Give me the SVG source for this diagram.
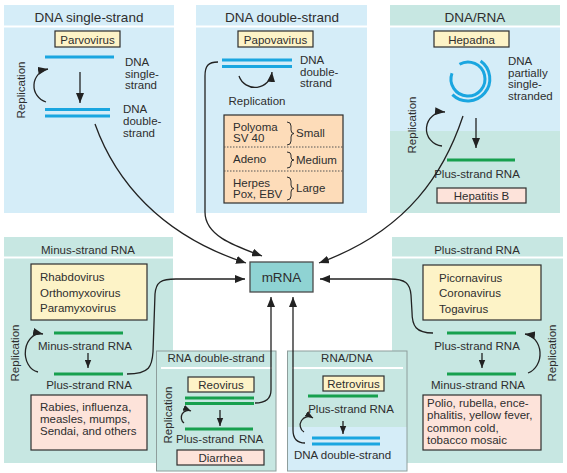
<svg xmlns="http://www.w3.org/2000/svg" width="567" height="473" viewBox="0 0 567 473">
<style>
text{font-family:"Liberation Sans",Arial,sans-serif;fill:#2e2e2e;font-size:11.5px}
.h1{font-size:13.5px}
.c{text-anchor:middle}
.blue{fill:#d5edf8}
.teal{fill:#c7e7e2}
.sep{stroke:#fff;stroke-width:2}
.box{stroke:#2e2e2e;stroke-width:1.2}
.yel{fill:#fdf3c7}
.rose{fill:#fde3da}
.peach{fill:#fddcb9}
.bl{stroke:#1aa6e0;stroke-width:3;fill:none}
.gr{stroke:#17a04e;stroke-width:3;fill:none}
.con{stroke:#222;stroke-width:1.3;fill:none}
.frame{fill:none;stroke:#8e9e9c;stroke-width:1}
.dot{stroke:#555;stroke-width:1;stroke-dasharray:1.5 1.5}
.brace{stroke:#2e2e2e;stroke-width:1;fill:none}
</style>
<defs>
<marker id="ah" viewBox="0 0 10 8" refX="10" refY="4" markerWidth="10" markerHeight="8" markerUnits="userSpaceOnUse" orient="auto"><path d="M0,0L10,4L0,8z" fill="#222"/></marker>
<marker id="as" viewBox="0 0 10 8" refX="10" refY="4" markerWidth="8" markerHeight="7" markerUnits="userSpaceOnUse" orient="auto"><path d="M0,0L10,4L0,8z" fill="#222"/></marker>
</defs>

<g id="dna-single">
<rect x="4" y="5" width="170" height="208" class="blue"/>
<line x1="4" y1="26.5" x2="174" y2="26.5" class="sep"/>
<text x="89" y="21.5" class="h1 c">DNA single-strand</text>
<rect x="55" y="31" width="65" height="16" class="box yel"/>
<text x="87.5" y="43.5" class="c">Parvovirus</text>
<line x1="45" y1="57" x2="114" y2="57" class="bl"/>
<text x="125" y="66">DNA</text>
<text x="125" y="77.5">single-</text>
<text x="125" y="89">strand</text>
<line x1="80" y1="72" x2="80" y2="103" class="con" marker-end="url(#ah)"/>
<line x1="45" y1="109.5" x2="110" y2="109.5" class="bl"/>
<line x1="45" y1="116" x2="110" y2="116" class="bl"/>
<text x="123" y="113">DNA</text>
<text x="123" y="125">double-</text>
<text x="123" y="137">strand</text>
<text transform="translate(25,90) rotate(-90)" class="c">Replication</text>
<path d="M46,102 A17,17 0 0 1 48,69" class="con" marker-end="url(#ah)"/>
</g>

<g id="dna-double">
<rect x="196" y="5" width="171" height="208" class="blue"/>
<line x1="196" y1="26.5" x2="367" y2="26.5" class="sep"/>
<text x="282" y="21.5" class="h1 c">DNA double-strand</text>
<rect x="238" y="31" width="75" height="16" class="box yel"/>
<text x="275.5" y="43.5" class="c">Papovavirus</text>
<line x1="222" y1="60" x2="292" y2="60" class="bl"/>
<line x1="222" y1="66.5" x2="292" y2="66.5" class="bl"/>
<text x="300" y="64">DNA</text>
<text x="300" y="75.5">double-</text>
<text x="300" y="87">strand</text>
<path d="M239,76 A17,17 0 0 0 272,72" class="con" marker-end="url(#ah)"/>
<text x="257" y="105" class="c">Replication</text>
<rect x="224" y="115" width="119" height="88" class="box peach"/>
<line x1="224" y1="147" x2="343" y2="147" class="dot"/>
<line x1="224" y1="171" x2="343" y2="171" class="dot"/>
<text x="233" y="131">Polyoma</text>
<text x="233" y="142">SV 40</text>
<text x="233" y="163">Adeno</text>
<text x="233" y="187">Herpes</text>
<text x="233" y="198">Pox, EBV</text>
<path d="M287,122 Q291,122 291,126 L291,130 Q291,133.5 294,133.5 Q291,133.5 291,137 L291,141 Q291,145 287,145" class="brace"/>
<path d="M287,152 Q291,152 291,155 L291,157 Q291,160 294,160 Q291,160 291,163 L291,165 Q291,168 287,168" class="brace"/>
<path d="M287,177 Q291,177 291,181 L291,185 Q291,188.5 294,188.5 Q291,188.5 291,192 L291,196 Q291,200 287,200" class="brace"/>
<text x="296" y="137">Small</text>
<text x="296" y="164">Medium</text>
<text x="296" y="192">Large</text>
</g>

<g id="dna-rna">
<rect x="390" y="5" width="170" height="208" class="teal"/>
<rect x="390" y="27" width="170" height="104" class="blue"/>
<line x1="390" y1="26.5" x2="560" y2="26.5" class="sep"/>
<text x="475" y="21.5" class="h1 c">DNA/RNA</text>
<rect x="434" y="31" width="75" height="16" class="box yel"/>
<text x="471.5" y="43.5" class="c">Hepadna</text>
<path d="M459.5,64.3 A17,17 0 1 1 452,73.2" class="bl"/>
<path d="M480.6,61 A22,22 0 1 1 452.4,94.6" class="bl"/>
<text x="508" y="65">DNA</text>
<text x="508" y="76.5">partially</text>
<text x="508" y="88">single-</text>
<text x="508" y="99.5">stranded</text>
<line x1="476" y1="118" x2="476" y2="148" class="con" marker-end="url(#ah)"/>
<line x1="447" y1="160" x2="515" y2="160" class="gr"/>
<text x="477" y="178" class="c">Plus-strand RNA</text>
<rect x="437" y="188" width="89" height="15" class="box rose"/>
<text x="481.5" y="200" class="c">Hepatitis B</text>
<text transform="translate(416,125) rotate(-90)" class="c">Replication</text>
<path d="M442,146 A17,17 0 0 1 445,112" class="con" marker-end="url(#ah)"/>
</g>

<g id="minus-rna">
<rect x="4" y="237" width="169" height="226" class="teal"/>
<line x1="4" y1="257.5" x2="173" y2="257.5" class="sep"/>
<text x="88" y="254" class="c">Minus-strand RNA</text>
<rect x="31" y="264" width="116" height="56" class="box yel"/>
<text x="40" y="281">Rhabdovirus</text>
<text x="40" y="297">Orthomyxovirus</text>
<text x="40" y="312">Paramyxovirus</text>
<line x1="54" y1="333" x2="123" y2="333" class="gr"/>
<text x="85" y="350" class="c">Minus-strand RNA</text>
<line x1="88" y1="353" x2="88" y2="368" class="con" marker-end="url(#as)"/>
<line x1="54" y1="374" x2="123" y2="374" class="gr"/>
<text x="89" y="389" class="c">Plus-strand RNA</text>
<rect x="31" y="395" width="116" height="55" class="box rose"/>
<text x="40" y="411">Rabies, influenza,</text>
<text x="40" y="423">measles, mumps,</text>
<text x="40" y="435">Sendai, and others</text>
<text transform="translate(19,353) rotate(-90)" class="c">Replication</text>
<path d="M38,372 A15,19 0 0 1 43,334" class="con" marker-end="url(#ah)"/>
</g>

<g id="plus-rna">
<rect x="392" y="237" width="171" height="226" class="teal"/>
<line x1="392" y1="257.5" x2="563" y2="257.5" class="sep"/>
<text x="477" y="254" class="c">Plus-strand RNA</text>
<rect x="423" y="265" width="118" height="55" class="box yel"/>
<text x="439" y="282">Picornavirus</text>
<text x="439" y="297">Coronavirus</text>
<text x="439" y="313">Togavirus</text>
<line x1="447" y1="333" x2="516" y2="333" class="gr"/>
<text x="477" y="350" class="c">Plus-strand RNA</text>
<line x1="482" y1="353" x2="482" y2="368" class="con" marker-end="url(#as)"/>
<line x1="447" y1="374" x2="516" y2="374" class="gr"/>
<text x="478" y="389" class="c">Minus-strand RNA</text>
<rect x="423" y="395" width="118" height="55" class="box rose"/>
<text x="427" y="407">Polio, rubella, ence-</text>
<text x="427" y="419">phalitis, yellow fever,</text>
<text x="427" y="431.5">common cold,</text>
<text x="427" y="444">tobacco mosaic</text>
<text transform="translate(556,353) rotate(-90)" class="c">Replication</text>
<path d="M528,373 A17,20 0 0 0 525,334" class="con" marker-end="url(#ah)"/>
</g>

<g id="rna-double">
<rect x="156.5" y="351" width="119.5" height="120" class="teal"/>
<rect x="156.5" y="351" width="119.5" height="120" class="frame"/>
<line x1="161" y1="368" x2="272" y2="368" class="sep"/>
<text x="216" y="362" class="c">RNA double-strand</text>
<rect x="188" y="377" width="66" height="15" class="box yel"/>
<text x="221" y="389" class="c">Reovirus</text>
<line x1="185" y1="398" x2="254" y2="398" class="gr"/>
<line x1="185" y1="403.5" x2="254" y2="403.5" class="gr"/>
<line x1="220" y1="410" x2="220" y2="426" class="con" marker-end="url(#as)"/>
<line x1="185" y1="429" x2="253" y2="429" class="gr"/>
<text y="443"><tspan x="176">Plus-strand</tspan><tspan x="239">RNA</tspan></text>
<rect x="177" y="450" width="87" height="15" class="box rose"/>
<text x="220.5" y="462" class="c">Diarrhea</text>
<text transform="translate(172,415) rotate(-90)" class="c">Replication</text>
<path d="M184,423 A7,7 0 0 1 191,411" class="con" marker-end="url(#as)"/>
</g>

<g id="rna-dna">
<rect x="287.5" y="351" width="119.5" height="120" class="teal"/>
<rect x="287.5" y="427" width="119.5" height="44" class="blue"/>
<rect x="287.5" y="351" width="119.5" height="120" class="frame"/>
<line x1="292" y1="368" x2="403" y2="368" class="sep"/>
<text x="347" y="362" class="c">RNA/DNA</text>
<rect x="323" y="376" width="61" height="15" class="box yel"/>
<text x="353.5" y="388" class="c">Retrovirus</text>
<line x1="308" y1="396" x2="378" y2="396" class="gr"/>
<text x="351" y="413" class="c">Plus-strand RNA</text>
<path d="M304,432 A8,8 0 0 1 313,418" class="con" marker-end="url(#as)"/>
<line x1="343" y1="421" x2="343" y2="434" class="con" marker-end="url(#as)"/>
<line x1="312" y1="438" x2="380" y2="438" class="bl"/>
<line x1="312" y1="444" x2="380" y2="444" class="bl"/>
<text x="342.5" y="459" class="c">DNA double-strand</text>
</g>

<g id="connectors">
<path d="M95,124 C115,180 160,235 246,263" class="con" marker-end="url(#ah)"/>
<path d="M218,62 C208,62 205,66 205,76 L205,212 C205,236 235,246 262,256" class="con" marker-end="url(#ah)"/>
<path d="M463,116 C445,170 410,230 319,263" class="con" marker-end="url(#ah)"/>
<path d="M127,374 C150,374 152,366 153,352 L155,294 C156,282 161,279 176,279 L245,279" class="con" marker-end="url(#ah)"/>
<path d="M433,333 C416,333 412,326 412,312 L411,295 C410,283 405,279 390,279 L320,279" class="con" marker-end="url(#ah)"/>
<path d="M255,403 C267,403 271,398 271,390 L271,297" class="con" marker-end="url(#ah)"/>
<path d="M305,443 C297,443 293,438 293,430 L293,297" class="con" marker-end="url(#ah)"/>
</g>

<g id="mrna">
<rect x="250" y="262" width="63" height="30" fill="#8fd3d3" stroke="#4a4a4a" stroke-width="1.3"/>
<text x="281.5" y="282" class="c" style="font-size:13.5px">mRNA</text>
</g>
</svg>
